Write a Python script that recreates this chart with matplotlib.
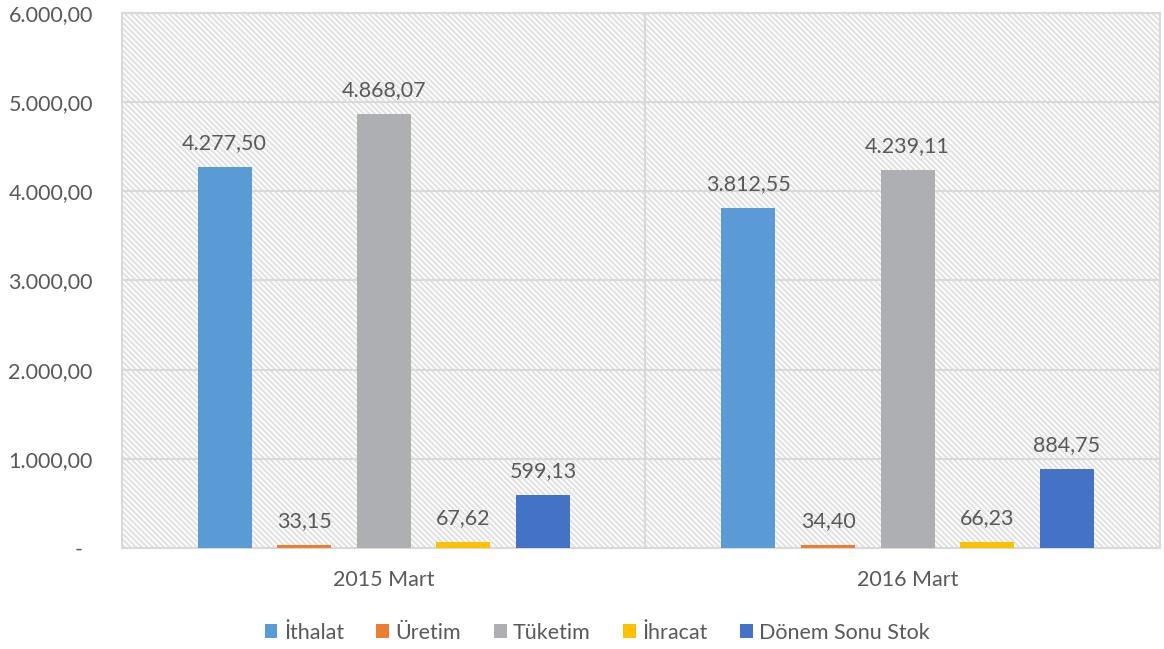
import numpy as np
import matplotlib
matplotlib.use("Agg")
import matplotlib.pyplot as plt
from matplotlib.patches import Rectangle
from matplotlib.transforms import ScaledTranslation

# data
donemler = ["2015 Mart", "2016 Mart"]
seriler = ["İthalat", "Üretim", "Tüketim", "İhracat", "Dönem Sonu Stok"]
ithalat = [4277.50, 3812.55]
uretim = [33.15, 34.40]
tuketim = [4868.07, 4239.11]
ihracat = [67.62, 66.23]
stok = [599.13, 884.75]
y_ticks = [0, 1000, 2000, 3000, 4000, 5000, 6000]

renkler = ["#5B9BD5", "#ED7D31", "#AEAFB3", "#FFC000", "#4472C4"]
yazi = "#595959"
fs = 15.5


def tr_format(v):
    s = f"{v:,.2f}"
    return s.replace(",", "X").replace(".", ",").replace("X", ".")


plt.rcParams["font.family"] = ["Lato", "DejaVu Sans"]
plt.rcParams["hatch.linewidth"] = 1.6
plt.rcParams["hatch.color"] = "#E2E2E2"

fig = plt.figure(figsize=(11.64, 6.49), dpi=100)
ax = fig.add_axes([0.1048, 0.1556, 0.8918, 0.8244])

# striped background
bg = Rectangle((0, 0), 1, 1, transform=ax.transAxes, facecolor="white",
               edgecolor="#E2E2E2", hatch="\\\\\\\\\\\\", linewidth=0, zorder=0)
ax.add_patch(bg)

x = np.arange(len(donemler))
pitch = 0.152
width = 0.103
degerler = [ithalat, uretim, tuketim, ihracat, stok]
for i, (ad, vals) in enumerate(zip(seriler, degerler)):
    pos = x + (i - 2) * pitch
    bars = ax.bar(pos, vals, width, color=renkler[i], label=ad, zorder=3)
    for b, v in zip(bars, vals):
        ax.annotate(tr_format(v), (b.get_x() + b.get_width() / 2, v),
                    xytext=(0, 10), textcoords="offset points",
                    ha="center", va="bottom", fontsize=fs, color=yazi)

ax.set_xlim(-0.5, 1.482)
ax.set_ylim(0, 6000)
ax.set_yticks(y_ticks)
ax.set_yticklabels(["-"] + [tr_format(v) for v in y_ticks[1:]])
ax.set_xticks(x)
ax.set_xticklabels(donemler)
ax.tick_params(axis="y", length=0, pad=21, labelsize=fs, labelcolor=yazi)
ax.tick_params(axis="x", length=0, pad=16, labelsize=fs, labelcolor=yazi)
# accounting style dash sits a bit to the left
ax.get_yticklabels()[0].set_transform(
    ax.get_yticklabels()[0].get_transform()
    + ScaledTranslation(-0.1, 0, fig.dpi_scale_trans))

ax.grid(axis="y", color="#D9D9D9", linewidth=1.5, zorder=1)
ax.axvline(0.499, color="#D9D9D9", linewidth=1.5, zorder=1)
for s in ax.spines.values():
    s.set_color("#D9D9D9")
    s.set_linewidth(1.5)

ax.legend(loc="center", bbox_to_anchor=(0.458, -0.158), ncol=5,
          frameon=False, fontsize=fs, handlelength=0.6, handleheight=0.6,
          handletextpad=0.3, columnspacing=1.5, labelcolor=yazi)

fig.savefig("out.png", dpi=100)
